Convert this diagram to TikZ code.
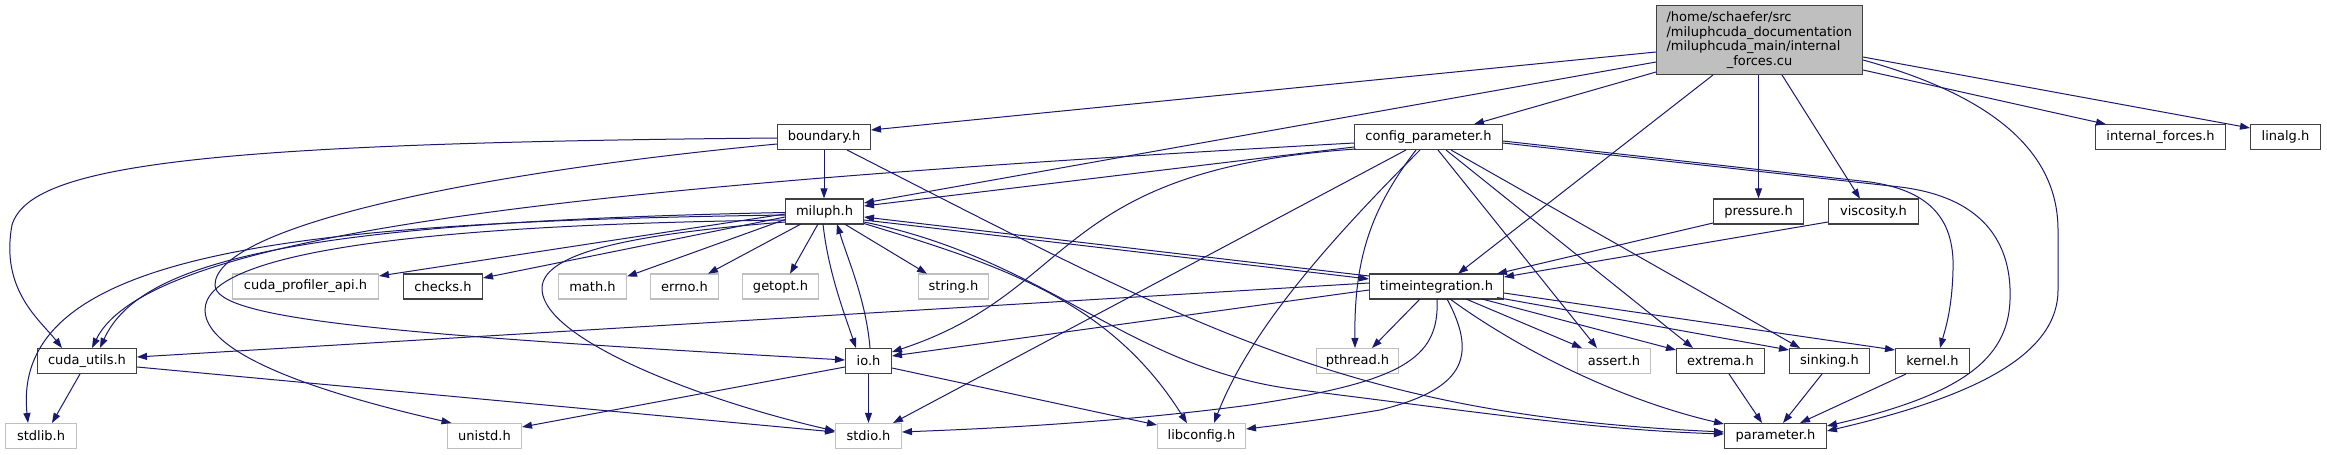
\documentclass[tikz,border=0pt]{standalone}
\usepackage{fontspec}
\setmainfont{DejaVu Sans}
\usetikzlibrary{arrows.meta}
\definecolor{edgec}{RGB}{25,25,112}
\definecolor{dgray}{RGB}{64,64,64}
\definecolor{lgray}{RGB}{191,191,191}
\newcommand{\nfont}{\fontsize{13pt}{14.7pt}\selectfont}
\tikzset{
  basebox/.style={line width=1.3pt, minimum height=25pt, inner sep=0pt, font=\nfont, text=black},
  hdr/.style={basebox, draw=dgray, fill=white},
  sys/.style={basebox, draw=lgray, fill=white},
  rootbox/.style={draw=dgray, fill=lgray, line width=1.3pt, inner sep=0pt, minimum width=206pt, minimum height=69pt, font=\nfont},
  edge/.style={draw=edgec, line width=1pt, -{Triangle[length=10pt,width=7pt]}},
}
\begin{document}
\begin{tikzpicture}[x=1pt,y=-1pt]
\useasboundingbox[fill=white] (0,0) rectangle (2327,455);
% row 1
\node[rootbox] (cu) at (1759.5,40) {\parbox{186pt}{\nfont\raggedright /home/schaefer/src\\/miluphcuda\_documentation\\/miluphcuda\_main/internal\par\centering \_forces.cu}};
% row 2
\node[hdr, minimum width=93pt] (boundary) at (824,137) {boundary.h};
\node[hdr, minimum width=148pt] (config) at (1428.5,137) {config\_parameter.h};
\node[hdr, minimum width=130pt] (iforces) at (2160.5,137) {internal\_forces.h};
\node[hdr, minimum width=70pt] (linalg) at (2285.5,137) {linalg.h};
% row 3
\node[hdr, minimum width=78pt] (miluph) at (824.5,211.5) {miluph.h};
\node[hdr, minimum width=90pt] (pressure) at (1758.5,211.5) {pressure.h};
\node[hdr, minimum width=90pt] (viscosity) at (1873.5,211.5) {viscosity.h};
% row 4
\node[sys, minimum width=146pt] (cudaprof) at (305.5,286.5) {cuda\_profiler\_api.h};
\node[hdr, minimum width=79pt] (checks) at (443,286.5) {checks.h};
\node[sys, minimum width=68pt] (math) at (592.5,286.5) {math.h};
\node[sys, minimum width=68pt] (errno) at (684.5,286.5) {errno.h};
\node[sys, minimum width=76pt] (getopt) at (780.5,286.5) {getopt.h};
\node[sys, minimum width=70pt] (string) at (953.5,286.5) {string.h};
\node[hdr, minimum width=134pt] (timeint) at (1436.5,286.5) {timeintegration.h};
% row 5
\node[hdr, minimum width=99pt] (cudautils) at (87,361) {cuda\_utils.h};
\node[hdr, minimum width=46pt] (io) at (868.5,361) {io.h};
\node[sys, minimum width=82pt] (pthread) at (1357.5,361) {pthread.h};
\node[sys, minimum width=73pt] (assert) at (1614,361) {assert.h};
\node[hdr, minimum width=88pt] (extrema) at (1720.5,361) {extrema.h};
\node[hdr, minimum width=80pt] (sinking) at (1829.5,361) {sinking.h};
\node[hdr, minimum width=74pt] (kernel) at (1932.5,361) {kernel.h};
% row 6
\node[sys, minimum width=71pt] (stdlib) at (41,436) {stdlib.h};
\node[sys, minimum width=74pt] (unistd) at (484.5,436) {unistd.h};
\node[sys, minimum width=66pt] (stdio) at (868.5,436) {stdio.h};
\node[sys, minimum width=88pt] (libconfig) at (1201.5,436) {libconfig.h};
\node[hdr, minimum width=102pt] (parameter) at (1775.5,436) {parameter.h};

% edges from root
\draw[edge] ([shift={(-103.5,12)}]cu.center) -- ([shift={(47,-7)}]boundary.center);
\draw[edge] ([shift={(-103.5,22)}]cu.center) -- ([shift={(39.5,-8.5)}]miluph.center);
\draw[edge] ([shift={(-103.5,32)}]cu.center) -- ([shift={(45.5,-12.75)}]config.center);
\draw[edge] ([shift={(-46.5,35)}]cu.center) -- ([shift={(21.5,-12.75)}]timeint.center);
\draw[edge] ([shift={(-1,35)}]cu.center) -- (pressure.north);
\draw[edge] ([shift={(22.5,35)}]cu.center) -- ([shift={(-13.5,-12.75)}]viscosity.center);
\draw[edge] ([shift={(103.5,20)}]cu.center) .. controls (1990,95) and (2058,150) .. (2058,230) -- (2058,290) .. controls (2058,360) and (1960,400) .. ([shift={(51.5,-5)}]parameter.center);
\draw[edge] ([shift={(103.5,30)}]cu.center) -- ([shift={(-54.5,-12.75)}]iforces.center);
\draw[edge] ([shift={(103.5,17)}]cu.center) -- ([shift={(-35.5,-9)}]linalg.center);
% boundary
\draw[edge] (boundary.south) -- (boundary.south |- miluph.north);
\draw[edge] ([shift={(-47,1)}]boundary.center) .. controls (200,143) and (30,165) .. (12,225) .. controls (0,290) and (40,320) .. ([shift={(-25,-13)}]cudautils.center);
\draw[edge] ([shift={(-47,7)}]boundary.center) .. controls (450,175) and (215,230) .. (215,285) .. controls (215,320) and (400,335) .. ([shift={(-23.5,-1)}]io.center);
\draw[edge] ([shift={(23,13)}]boundary.center) .. controls (1200,330) and (1350,415) .. ([shift={(-51.5,-4)}]parameter.center);
% miluph
\draw[edge] ([shift={(39.5,10.5)}]miluph.center) .. controls (1050,260) and (1130,370) .. (1300,390) .. controls (1500,415) and (1600,430) .. ([shift={(-51.5,-2)}]parameter.center);
\draw[edge] ([shift={(39.5,12)}]miluph.center) .. controls (1000,265) and (1110,300) .. ([shift={(-14.5,-12.75)}]libconfig.center);
\draw[edge] ([shift={(20,12.5)}]miluph.center) -- ([shift={(-26.5,-12.75)}]string.center);
\draw[edge] ([shift={(-6.5,12.5)}]miluph.center) -- ([shift={(9.5,-12.75)}]getopt.center);
\draw[edge] ([shift={(-23.5,12.5)}]miluph.center) -- ([shift={(23.5,-12.75)}]errno.center);
\draw[edge] ([shift={(-39.5,8)}]miluph.center) -- ([shift={(34.5,-10)}]math.center);
\draw[edge] ([shift={(-39.5,5.5)}]miluph.center) -- ([shift={(40,-8.5)}]checks.center);
\draw[edge] ([shift={(-39.5,2.5)}]miluph.center) -- ([shift={(73.5,-10.5)}]cudaprof.center);
\draw[edge] ([shift={(-39.5,1)}]miluph.center) .. controls (300,222) and (140,260) .. ([shift={(13,-13)}]cudautils.center);
\draw[edge] ([shift={(-39.5,3.5)}]miluph.center) .. controls (300,222) and (10,250) .. ([shift={(-13,-13)}]stdlib.center);
\draw[edge] ([shift={(-39.5,8.5)}]miluph.center) .. controls (400,225) and (205,255) .. (205,310) .. controls (205,360) and (350,400) .. ([shift={(-33,-13)}]unistd.center);
\draw[edge] ([shift={(-39.5,10.5)}]miluph.center) .. controls (620,235) and (540,255) .. (542,290) .. controls (545,340) and (700,400) .. ([shift={(-33.5,-5)}]stdio.center);
\draw[edge] ([shift={(-1.5,12.5)}]miluph.center) .. controls (828,270) and (843,310) .. ([shift={(-12.5,-13)}]io.center);
\draw[edge] ([shift={(1.5,-13)}]io.center) .. controls (866,300) and (848,260) .. ([shift={(12.5,12.5)}]miluph.center);
\draw[edge] ([shift={(39.5,8.5)}]miluph.center) -- ([shift={(-67.5,-7.5)}]timeint.center);
\draw[edge] ([shift={(-67.5,-10.5)}]timeint.center) -- ([shift={(39.5,5.5)}]miluph.center);
% config
\draw[edge] ([shift={(-74.5,10)}]config.center) -- ([shift={(39.5,-5.5)}]miluph.center);
\draw[edge] ([shift={(-74.5,6)}]config.center) .. controls (600,185) and (150,230) .. ([shift={(5,-13)}]cudautils.center);
\draw[edge] ([shift={(-72.5,12)}]config.center) .. controls (1050,170) and (1080,290) .. ([shift={(23.5,-9)}]io.center);
\draw[edge] ([shift={(-22.5,13)}]config.center) -- ([shift={(24.5,-13)}]stdio.center);
\draw[edge] ([shift={(-8.5,13)}]config.center) .. controls (1330,240) and (1250,330) .. ([shift={(12.5,-13)}]libconfig.center);
\draw[edge] ([shift={(-12.5,13)}]config.center) .. controls (1370,210) and (1354,260) .. ([shift={(-2.5,-13)}]pthread.center);
\draw[edge] ([shift={(9.5,13)}]config.center) -- ([shift={(-17,-13)}]assert.center);
\draw[edge] ([shift={(17.5,13)}]config.center) -- ([shift={(-27.5,-13)}]extrema.center);
\draw[edge] ([shift={(22.5,13)}]config.center) -- ([shift={(-29.5,-13)}]sinking.center);
\draw[edge] ([shift={(74.5,4)}]config.center) -- (1870,182) .. controls (1925,190) and (1955,215) .. (1953,270) .. controls (1952,310) and (1945,330) .. ([shift={(7.5,-13)}]kernel.center);
\draw[edge] ([shift={(74.5,6)}]config.center) -- (1900,187) .. controls (1990,198) and (2012,250) .. (2010,300) .. controls (2008,360) and (1960,395) .. ([shift={(51.5,-10)}]parameter.center);
% pressure, viscosity
\draw[edge] ([shift={(-45.5,11.5)}]pressure.center) -- ([shift={(60.5,-12.75)}]timeint.center);
\draw[edge] ([shift={(-45.5,10.5)}]viscosity.center) -- ([shift={(67.5,-9.5)}]timeint.center);
% timeintegration
\draw[edge] ([shift={(-67.5,-3.5)}]timeint.center) -- ([shift={(50,-4)}]cudautils.center);
\draw[edge] ([shift={(-67.5,3.5)}]timeint.center) -- ([shift={(23.5,-5)}]io.center);
\draw[edge] ([shift={(-16.5,12.5)}]timeint.center) -- ([shift={(14.5,-13)}]pthread.center);
\draw[edge] ([shift={(0.5,12.5)}]timeint.center) .. controls (1440,360) and (1400,382) .. (1250,405) .. controls (1100,425) and (950,430) .. ([shift={(33.5,-4)}]stdio.center);
\draw[edge] ([shift={(10.5,12.5)}]timeint.center) .. controls (1480,360) and (1460,390) .. (1380,410) .. controls (1320,420) and (1280,425) .. ([shift={(44.5,-7)}]libconfig.center);
\draw[edge] ([shift={(13.5,12.5)}]timeint.center) .. controls (1520,350) and (1620,400) .. ([shift={(-51.5,-12)}]parameter.center);
\draw[edge] ([shift={(29.5,12.5)}]timeint.center) -- ([shift={(-32,-13)}]assert.center);
\draw[edge] ([shift={(45.5,12.5)}]timeint.center) -- ([shift={(-44.5,-11)}]extrema.center);
\draw[edge] ([shift={(60.5,11)}]timeint.center) -- ([shift={(-40.5,-11)}]sinking.center);
\draw[edge] ([shift={(67.5,6.5)}]timeint.center) -- ([shift={(-37.5,-11)}]kernel.center);
% into parameter
\draw[edge] ([shift={(8.5,13)}]extrema.center) -- ([shift={(-13.5,-13)}]parameter.center);
\draw[edge] ([shift={(-7.5,13)}]sinking.center) -- ([shift={(7.5,-13)}]parameter.center);
\draw[edge] ([shift={(-26.5,13)}]kernel.center) -- ([shift={(24.5,-13)}]parameter.center);
% io
\draw[edge] (io.south) -- (io.south |- stdio.north);
\draw[edge] ([shift={(23.5,7)}]io.center) -- ([shift={(-44.5,-11)}]libconfig.center);
\draw[edge] ([shift={(-23.5,6)}]io.center) -- ([shift={(37.5,-9)}]unistd.center);
% cuda_utils
\draw[edge] ([shift={(-7,13)}]cudautils.center) -- ([shift={(11,-13)}]stdlib.center);
\draw[edge] ([shift={(50,6)}]cudautils.center) -- ([shift={(-33.5,-4)}]stdio.center);
\end{tikzpicture}
\end{document}
